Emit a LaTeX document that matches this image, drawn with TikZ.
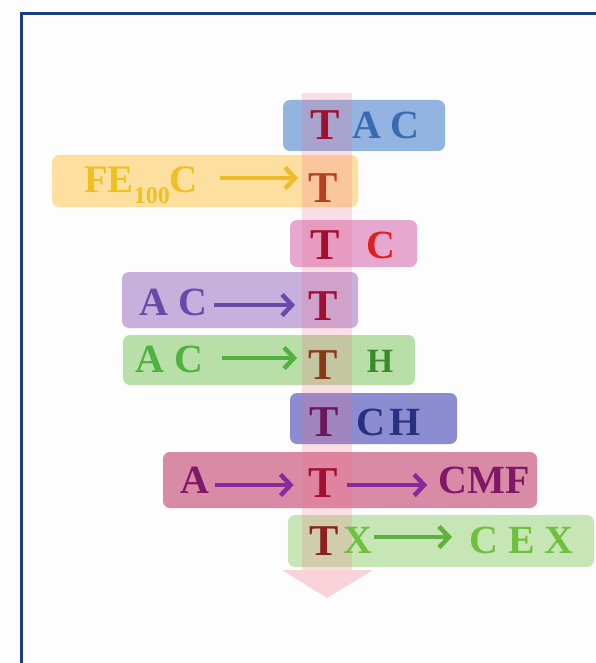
\documentclass[tikz,border=0pt]{standalone}
\usepackage{fontspec}
\setmainfont{Liberation Serif}
\usetikzlibrary{arrows.meta}
\definecolor{framecol}{RGB}{22,62,135}
\definecolor{bgcol}{RGB}{253,253,253}
\definecolor{colpink}{RGB}{240,112,144}
\definecolor{headpink}{RGB}{248,212,218}
\definecolor{bxblue}{RGB}{147,180,224}
\definecolor{bxyellow}{RGB}{253,224,160}
\definecolor{bxpink}{RGB}{230,168,207}
\definecolor{bxpurple}{RGB}{200,176,220}
\definecolor{bxgreen}{RGB}{184,223,168}
\definecolor{bxnavy}{RGB}{140,140,208}
\definecolor{bxrose}{RGB}{217,138,165}
\definecolor{bxlgreen}{RGB}{199,230,181}
\definecolor{tred}{RGB}{160,16,48}
\definecolor{tbrownred}{RGB}{184,64,32}
\definecolor{tbrown}{RGB}{138,58,24}
\definecolor{tplum}{RGB}{106,24,88}
\definecolor{tdred}{RGB}{138,32,32}
\definecolor{txblue}{RGB}{58,106,176}
\definecolor{txgold}{RGB}{240,192,32}
\definecolor{arrgold}{RGB}{240,186,40}
\definecolor{txred}{RGB}{224,32,32}
\definecolor{txpurple}{RGB}{106,74,168}
\definecolor{txgreen}{RGB}{80,176,64}
\definecolor{txdgreen}{RGB}{58,138,42}
\definecolor{txnavy}{RGB}{40,48,128}
\definecolor{txmag}{RGB}{128,24,104}
\definecolor{arrmag}{RGB}{138,42,154}
\definecolor{txlgreen}{RGB}{112,192,64}
\definecolor{arrlgreen}{RGB}{96,176,64}
\begin{document}
\begin{tikzpicture}[x=1pt,y=-1pt,
  box/.style={rounded corners=7pt, inner sep=0pt, draw=none},
  bigT/.style={inner sep=0pt, anchor=base, font=\bfseries\fontsize{44}{44}\selectfont},
  lab/.style={inner sep=0pt, anchor=base, font=\bfseries\fontsize{40}{40}\selectfont},
  arr/.style={line width=4.5pt, -{Straight Barb[length=10pt,width=21pt,line width=4.5pt]}}
]
\useasboundingbox (0,0) rectangle (596,663);
\fill[bgcol] (0,0) rectangle (596,663);
\draw[framecol, line width=3.2pt] (21.5,663) -- (21.5,13.5) -- (596,13.5);

% boxes
\node[box, fill=bxblue,   minimum width=162pt, minimum height=51pt] (b1) at (364,125.5) {};
\node[box, fill=bxyellow, minimum width=306pt, minimum height=52pt] (b2) at (205,181) {};
\node[box, fill=bxpink,   minimum width=127pt, minimum height=47pt] (b3) at (353.5,243.5) {};
\node[box, fill=bxpurple, minimum width=236pt, minimum height=56pt] (b4) at (240,300) {};
\node[box, fill=bxgreen,  minimum width=292pt, minimum height=50pt] (b5) at (269,360) {};
\node[box, fill=bxnavy,   minimum width=167pt, minimum height=51pt] (b6) at (373.5,418.5) {};
\node[box, fill=bxrose,   minimum width=374pt, minimum height=56pt] (b7) at (350,480) {};
\node[box, fill=bxlgreen, minimum width=306pt, minimum height=52pt] (b8) at (441,541) {};

% column with arrow head
\fill[colpink, opacity=0.22] (302,93) rectangle (352,570);
\fill[headpink] (282,570) -- (373,570) -- (327,598) -- cycle;

% row 1
\node[bigT, text=tred] (t1) at (325,140) {T};
\node[lab, text=txblue] (ac1) at (386,139) {A C};
% row 2
\node[lab, text=txgold, font=\bfseries\fontsize{39}{39}\selectfont] (fe) at (141,192)
  {FE\raisebox{-11pt}{\fontsize{24}{24}\selectfont 100}C};
\node[bigT, text=tbrownred] (t2) at (323,202) {T};
\draw[arr, arrgold] ([shift={(22,-14)}]fe.base east) -- ([shift={(-10,-24)}]t2.base west);
% row 3
\node[bigT, text=tred] (t3) at (325,259) {T};
\node[lab, text=txred] (c3) at (381,258) {C};
% row 4
\node[lab, text=txpurple] (ac4) at (173.5,315) {A C};
\node[bigT, text=tred] (t4) at (323,320) {T};
\draw[arr, txpurple] ([shift={(6,-10)}]ac4.base east) -- ([shift={(-13,-15)}]t4.base west);
% row 5
\node[lab, text=txgreen] (ac5) at (169.5,372) {A C};
\node[bigT, text=tbrown] (t5) at (323,379) {T};
\node[lab, text=txdgreen, font=\bfseries\fontsize{34}{34}\selectfont] (h5) at (380,372) {H};
\draw[arr, txgreen] ([shift={(18,-14)}]ac5.base east) -- ([shift={(-11,-21)}]t5.base west);
% row 6
\node[bigT, text=tplum] (t6) at (324,436) {T};
\node[lab, text=txnavy] (ch6) at (388.5,435) {C\hspace{5pt}H};
% row 7
\node[lab, text=txmag] (a7) at (195,493) {A};
\node[bigT, text=tred] (t7) at (323.5,497) {T};
\node[lab, text=txmag] (cmf) at (484,493) {CMF};
\draw[arr, arrmag] ([shift={(5,-8)}]a7.base east) -- ([shift={(-15,-12)}]t7.base west);
\draw[arr, arrmag] ([shift={(9,-12)}]t7.base east) -- ([shift={(-11,-8)}]cmf.base west);
% row 8
\node[bigT, text=tdred] (t8) at (324,555) {T};
\node[lab, text=txlgreen] (x8) at (357.5,553) {X};
\node[lab, text=txlgreen] (cex) at (521.5,553) {C E X};
\draw[arr, arrlgreen] ([shift={(2,-16)}]x8.base east) -- ([shift={(-17,-16)}]cex.base west);
\end{tikzpicture}
\end{document}
